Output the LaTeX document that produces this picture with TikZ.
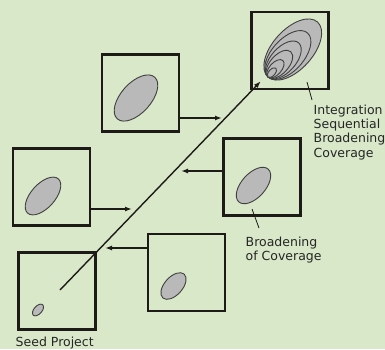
\documentclass[tikz,border=0pt]{standalone}
\usepackage{fontspec}
\setmainfont{DejaVu Sans}
\usetikzlibrary{calc}
\usetikzlibrary{arrows.meta}
\definecolor{bgreen}{RGB}{216,232,200}
\definecolor{blobgray}{RGB}{185,185,185}
\definecolor{inkdark}{RGB}{30,26,24}
\providecommand*{\pgfmathsetnewmacro}[2]{%
    \newcommand*{#1}{}%
    \pgfmathsetmacro{#1}{#2}%
}

\begin{document}
\begin{tikzpicture}[%
        x = 1pt, y = 1pt,
        draw = inkdark,
        line width = 1.4pt,
        >={Latex[length=7pt,width=5pt]},
        panel/.style = {draw = inkdark, line width = 2.4pt, minimum size = 77pt, inner sep = 0pt},
        blob/.style = {draw = black!75, fill = blobgray, line width = 0.9pt},
        lbl/.style = {text = black!85, inner sep = 0pt, align = left, font = \fontsize{12.5}{14.3}\selectfont},
        ]

\fill[bgreen] (0,0) rectangle (385,349);
\useasboundingbox (0,0) rectangle (385,349);

\pgfmathsetnewmacro{\tilt}{48}

\node (B1) [panel] at (57,58) {};
\node (B2) [panel] at (186.5,76.5) {};
\node (B3) [panel] at (51.5,162) {};
\node (B4) [panel] at (140.5,256) {};
\node (B5) [panel] at (262,172) {};
\node (B6) [panel] at (290,298.5) {};

% single blobs
\foreach \BOX/\DX/\DY/\RA/\RB in {B1/-19/-19/7/4, B2/-13/-13.5/16/9, B3/-8.5/-9/23/12, B4/-4.5/-5/28/15, B5/-8.5/-8.5/22/12}{%
    \path (\BOX) ++(\DX,\DY) coordinate (e\BOX);
    \draw[blob, rotate around={\tilt:(e\BOX)}] (e\BOX) ellipse ({\RA} and {\RB});
    }

% nested blobs
\path (B6) ++(-22,-26.5) coordinate (p6);
\foreach \S in {1,0.8,0.62,0.46,0.3,0.16}{%
    \path (p6) ++(\tilt:{37*\S}) coordinate (c6);
    \draw[blob, rotate around={\tilt:(c6)}] (c6) ellipse ({37*\S} and {20*\S});
    }

\coordinate (s0) at ($(B1.center)+(3,1)$);
\coordinate (s1) at ($(B6.south west)+(10.5,9)$);
\draw[->] (s0) -- (s1);

\coordinate (t1) at (132,140);
\coordinate (t2) at (222,231);
\coordinate (t3) at (181,178);
\coordinate (t4) at (105,101);

\foreach \BOX/\SIDE/\TIP in {B3/east/t1, B4/east/t2, B5/west/t3, B2/west/t4}{%
    \draw[->] (\TIP -| \BOX.\SIDE) -- (\TIP);
    }

\node (L1) [lbl, anchor = north west] at (313,245) {Integration\\Sequential\\Broadening\\Coverage};
\node (L2) [lbl, anchor = north west] at (245,113) {Broadening\\of Coverage};
\node (L3) [lbl, anchor = base west] at (15,3) {Seed Project};

\draw[line width = 0.8pt] ($(L1.north west)+(-6,22)$) -- ($(L1.north west)+(-1,4)$);
\draw[line width = 0.8pt] ($(L2.north west)+(7,27)$) -- ($(L2.north west)+(14,8)$);

\end{tikzpicture}
\end{document}
